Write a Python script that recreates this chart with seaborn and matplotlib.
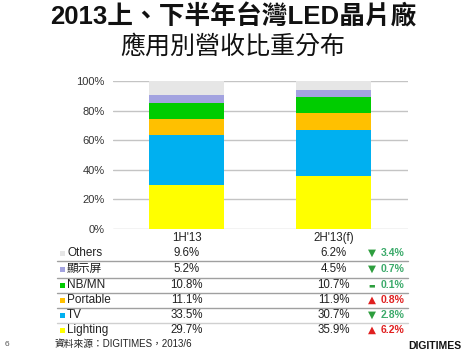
import matplotlib
matplotlib.use("Agg")
import matplotlib.pyplot as plt
import seaborn as sns
import pandas as pd
import numpy as np
from matplotlib.patches import Rectangle
from matplotlib.lines import Line2D

sns.set_theme(style="white")
plt.rcParams['font.family'] = ['Liberation Sans', 'Noto Sans CJK TC', 'DejaVu Sans']

# ---- data ----
periods = ["1H'13", "2H'13(f)"]
segments = ["Lighting", "TV", "Portable", "NB/MN", "顯示屏", "Others"]
share_1h = [29.7, 33.5, 11.1, 10.8, 5.2, 9.6]
share_2h = [35.9, 30.7, 11.9, 10.7, 4.5, 6.2]
change_text = ["6.2%", "2.8%", "0.8%", "0.1%", "0.7%", "3.4%"]
change_dir = ["up", "down", "up", "flat", "down", "down"]
colors = ["#FFFF00", "#00B0F0", "#FFC000", "#00CC00", "#A3A3E0", "#E6E6E6"]
yticks = [0, 20, 40, 60, 80, 100]
ytick_labels = ["0%", "20%", "40%", "60%", "80%", "100%"]

W, H = 462, 353
fig = plt.figure(figsize=(W / 100, H / 100), dpi=100)
fig.patch.set_facecolor("white")

def fx(x):
    return x / W

def fy(y):
    return 1 - y / H

# axes placement (pixels)
ax_l, ax_r, ax_t, ax_b = 113, 408, 81, 229
ax = fig.add_axes([fx(ax_l), fy(ax_b), fx(ax_r) - fx(ax_l), fy(ax_t) - fy(ax_b)])

cum1 = np.cumsum(share_1h)
cum2 = np.cumsum(share_2h)
for i in range(len(segments) - 1, -1, -1):
    d = pd.DataFrame({"period": periods, "value": [cum1[i], cum2[i]]})
    sns.barplot(data=d, x="period", y="value", color=colors[i], width=0.51,
                saturation=1, ax=ax, zorder=3, linewidth=0)

ax.set_ylim(0, 100)
ax.set_xlim(-0.5, 1.507)
ax.set_yticks(yticks)
ax.set_yticklabels(ytick_labels, fontsize=8, color="#333333")
ax.set_xticks([])
ax.set_xlabel("")
ax.set_ylabel("")
ax.tick_params(axis="y", length=0, pad=6)
for y in yticks:
    ax.axhline(y, color="#C4C4C4", lw=1.0, zorder=1)
for s in ax.spines.values():
    s.set_visible(False)

# title
fig.text(fx(233), fy(17), "2013上、下半年台灣LED晶片廠", ha="center", va="center",
         fontsize=18.5, fontweight="bold", color="#111111")
fig.text(fx(233), fy(47), "應用別營收比重分布", ha="center", va="center",
         fontsize=18, fontweight="medium", color="#111111")

# table header
col1, col2 = 186.5, 333.5
fig.text(fx(col1), fy(238), periods[0], ha="center", va="center", fontsize=8.3, color="#222222")
fig.text(fx(col2), fy(238), periods[1], ha="center", va="center", fontsize=8.3, color="#222222")

row_y = {"Others": 253, "顯示屏": 269, "NB/MN": 285, "Portable": 300, "TV": 315, "Lighting": 330}
for i, seg in enumerate(segments):
    y = row_y[seg]
    fig.add_artist(Rectangle((fx(60), fy(y + 2.5)), 4.5 / W, 5 / H, transform=fig.transFigure,
                             facecolor=colors[i], edgecolor="none"))
    fig.text(fx(67), fy(y), seg, ha="left", va="center", fontsize=8.5, color="#222222")
    fig.text(fx(col1), fy(y), f"{share_1h[i]:.1f}%", ha="center", va="center", fontsize=8.3, color="#222222")
    fig.text(fx(col2), fy(y), f"{share_2h[i]:.1f}%", ha="center", va="center", fontsize=8.3, color="#222222")
    d = change_dir[i]
    if d == "up":
        sym, col = "▲", "#E02020"
    elif d == "down":
        sym, col = "▼", "#2E9E3E"
    else:
        sym, col = "▬", "#2E9E3E"
    fig.text(fx(372), fy(y), sym, ha="center", va="center", fontsize=7.5 if d != "flat" else 5,
             color=col, family="DejaVu Sans")
    fig.text(fx(381), fy(y), change_text[i], ha="left", va="center", fontsize=7.5,
             fontweight="bold", color="#E02020" if d == "up" else "#3BAA6A")

# separator lines
for y, c in [(261, "#A0A0A0"), (278, "#A0A0A0"), (293, "#A0A0A0"), (308, "#A0A0A0"), (323, "#D0D0D0")]:
    fig.add_artist(Line2D([fx(57), fx(408)], [fy(y), fy(y)], transform=fig.transFigure,
                          color=c, lw=1.0))

# footnotes
fig.text(fx(55), fy(344), "資料來源：DIGITIMES，2013/6", ha="left", va="center", fontsize=7, color="#222222")
fig.text(fx(5), fy(344), "6", ha="left", va="center", fontsize=6, color="#555555")
fig.text(fx(461), fy(346), "DIGITIMES", ha="right", va="center", fontsize=7.5,
         fontweight="bold", color="#111111")

fig.savefig("out.png", dpi=100, facecolor="white")
